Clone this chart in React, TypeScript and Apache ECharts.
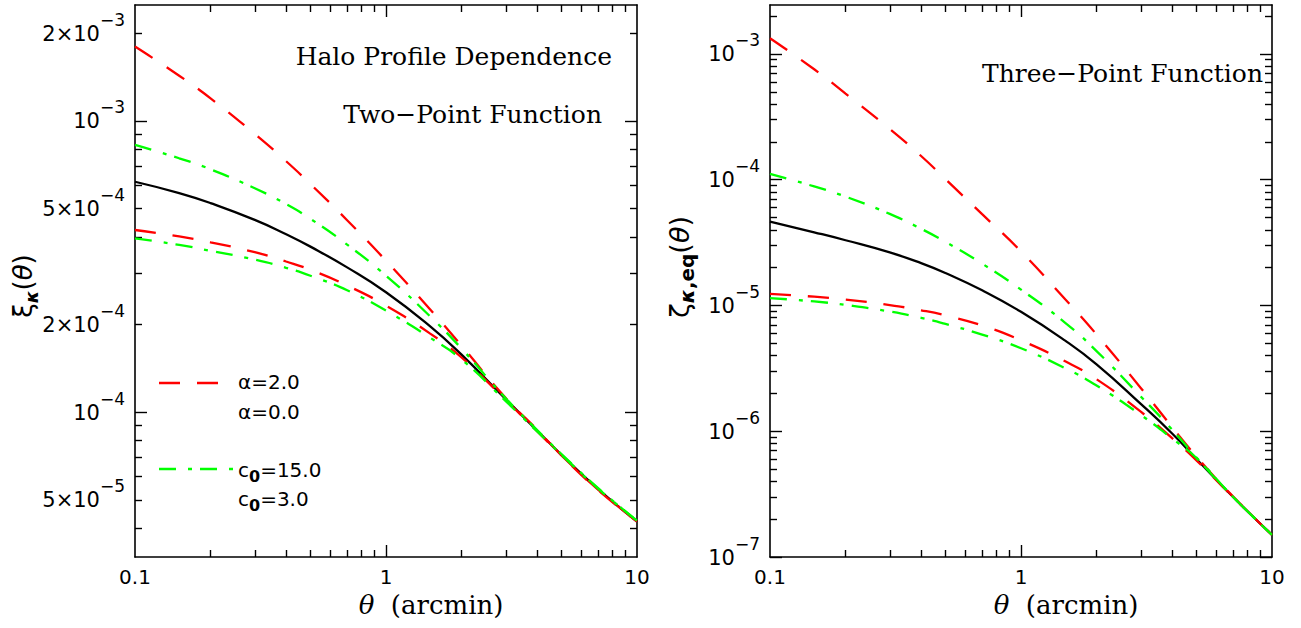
import React, { useEffect, useRef } from 'react';
import * as echarts from 'echarts';

// ---------- data ----------
const theta = [0.1, 0.15, 0.2, 0.3, 0.4, 0.5, 0.7, 1, 1.5, 2, 3, 4, 5, 7, 10];

// Two-point function (left panel)
const fid2 = [6.18e-4, 5.65e-4, 5.22e-4, 4.57e-4, 4.08e-4, 3.70e-4, 3.14e-4, 2.58e-4, 1.97e-4, 1.575e-4, 1.107e-4, 8.64e-5, 7.13e-5, 5.44e-5, 4.21e-5];
const alpha2_2 = [1.80e-3, 1.429e-3, 1.195e-3, 9.02e-4, 7.27e-4, 6.07e-4, 4.56e-4, 3.31e-4, 2.25e-4, 1.69e-4, 1.117e-4, 8.70e-5, 7.10e-5, 5.40e-5, 4.21e-5];
const alpha0_2 = [4.22e-4, 4.01e-4, 3.83e-4, 3.54e-4, 3.29e-4, 3.08e-4, 2.72e-4, 2.32e-4, 1.86e-4, 1.54e-4, 1.10e-4, 8.60e-5, 7.10e-5, 5.42e-5, 4.21e-5];
const c15_2 = [8.27e-4, 7.44e-4, 6.82e-4, 5.87e-4, 5.18e-4, 4.61e-4, 3.76e-4, 2.94e-4, 2.13e-4, 1.652e-4, 1.115e-4, 8.68e-5, 7.18e-5, 5.48e-5, 4.24e-5];
const c3_2 = [3.95e-4, 3.75e-4, 3.58e-4, 3.34e-4, 3.13e-4, 2.94e-4, 2.62e-4, 2.23e-4, 1.80e-4, 1.516e-4, 1.09e-4, 8.58e-5, 7.14e-5, 5.46e-5, 4.24e-5];

// Three-point function (right panel)
const fid3 = [4.65e-5, 3.82e-5, 3.30e-5, 2.64e-5, 2.17e-5, 1.81e-5, 1.32e-5, 8.9e-6, 5.25e-6, 3.40e-6, 1.65e-6, 9.6e-7, 6.02e-7, 3.00e-7, 1.50e-7];
const alpha2_3 = [1.334e-3, 7.55e-4, 4.84e-4, 2.53e-4, 1.543e-4, 1.011e-4, 5.32e-5, 2.69e-5, 1.12e-5, 5.88e-6, 2.21e-6, 1.08e-6, 6.30e-7, 3.02e-7, 1.50e-7];
const alpha0_3 = [1.237e-5, 1.174e-5, 1.114e-5, 1.007e-5, 9.16e-6, 8.34e-6, 6.93e-6, 5.28e-6, 3.60e-6, 2.59e-6, 1.43e-6, 8.80e-7, 5.86e-7, 2.99e-7, 1.50e-7];
const c15_3 = [1.114e-4, 8.84e-5, 7.34e-5, 5.35e-5, 4.07e-5, 3.20e-5, 2.15e-5, 1.337e-5, 7.28e-6, 4.34e-6, 1.89e-6, 1.03e-6, 6.18e-7, 3.00e-7, 1.50e-7];
const c3_3 = [1.144e-5, 1.076e-5, 1.010e-5, 8.95e-6, 7.97e-6, 7.13e-6, 5.87e-6, 4.57e-6, 3.17e-6, 2.31e-6, 1.349e-6, 8.76e-7, 6.13e-7, 3.00e-7, 1.50e-7];

// ---------- ticks and labels ----------
const xLabels = [0.1, 1, 10];
const xMinorTicks = [0.2, 0.3, 0.4, 0.5, 0.6, 0.7, 0.8, 0.9, 2, 3, 4, 5, 6, 7, 8, 9];
const xMajorTicks = [1];

const yLabels2 = [5e-5, 1e-4, 2e-4, 5e-4, 1e-3, 2e-3];
const yMinor2 = [4e-5, 5e-5, 6e-5, 7e-5, 8e-5, 9e-5, 2e-4, 3e-4, 4e-4, 5e-4, 6e-4, 7e-4, 8e-4, 9e-4, 2e-3];
const yMajor2 = [1e-4, 1e-3];

const yLabels3 = [1e-7, 1e-6, 1e-5, 1e-4, 1e-3];
const yMinor3 = [
  2e-7, 3e-7, 4e-7, 5e-7, 6e-7, 7e-7, 8e-7, 9e-7,
  2e-6, 3e-6, 4e-6, 5e-6, 6e-6, 7e-6, 8e-6, 9e-6,
  2e-5, 3e-5, 4e-5, 5e-5, 6e-5, 7e-5, 8e-5, 9e-5,
  2e-4, 3e-4, 4e-4, 5e-4, 6e-4, 7e-4, 8e-4, 9e-4,
  2e-3,
];
const yMajor3 = [1e-7, 1e-6, 1e-5, 1e-4, 1e-3];

const SANS = 'DejaVu Sans';
const SERIF = 'DejaVu Serif';
const RED = '#ff0000';
const GREEN = '#00ff00';
const DASH: number[] = [21, 17];
const DASHDOT: number[] = [17, 12, 4, 8];

const supRich = {
  b: { fontFamily: SANS, fontSize: 21, height: 21, lineHeight: 33, verticalAlign: 'bottom', color: '#000' },
  s: { fontFamily: SANS, fontSize: 17, height: 17, verticalAlign: 'top', color: '#000' },
};

function sciLabel(v: number): string {
  const e = Math.floor(Math.log10(v) + 1e-9);
  const m = Math.round(v / Math.pow(10, e));
  const ex = e < 0 ? '\u2212' + String(-e) : String(e);
  return m === 1 ? `{b|10}{s|${ex}}` : `{b|${m}\u00d710}{s|${ex}}`;
}

function plainLabel(v: number): string {
  return String(Number(v.toPrecision(6)));
}

function frameAxes(
  dim: 'x' | 'y',
  grid: number,
  min: number,
  max: number,
  labels: number[],
  minor: number[],
  major: number[],
  labelCfg: any,
  extra: any
) {
  const pos = dim === 'x' ? ['bottom', 'top'] : ['left', 'right'];
  const base = {
    type: 'log',
    logBase: 10,
    gridIndex: grid,
    min,
    max,
    splitLine: { show: false },
    minorSplitLine: { show: false },
  };
  const line = { show: true, onZero: false, lineStyle: { color: '#000', width: 1.6 } };
  const tick = (vals: number[], len: number) => ({
    show: true,
    inside: true,
    length: len,
    customValues: vals,
    lineStyle: { color: '#000', width: 1.4 },
  });
  return [
    {
      ...base,
      position: pos[0],
      axisLine: line,
      axisTick: tick(minor, 7),
      axisLabel: { show: true, customValues: labels, color: '#000', ...labelCfg },
      ...extra,
    },
    { ...base, position: pos[0], axisLine: { show: false }, axisTick: tick(major, 12), axisLabel: { show: false } },
    { ...base, position: pos[1], axisLine: line, axisTick: tick(minor, 7), axisLabel: { show: false } },
    { ...base, position: pos[1], axisLine: { show: false }, axisTick: tick(major, 12), axisLabel: { show: false } },
  ];
}

const xLabelCfg = {
  formatter: (v: number) => plainLabel(v),
  fontFamily: SANS,
  fontSize: 20,
  margin: 10,
};
const yLabelCfg = {
  formatter: (v: number) => sciLabel(v),
  rich: supRich,
  padding: [0, 0, 11, 0],
  margin: 10,
};
const xNameCfg = {
  name: '{i|\u03b8}{r|\u00a0\u00a0(arcmin)}',
  nameLocation: 'middle',
  nameGap: 34,
  nameTextStyle: {
    color: '#000',
    padding: [0, 0, 0, 90],
    rich: {
      i: { fontFamily: SERIF, fontStyle: 'italic', fontSize: 26, color: '#000' },
      r: { fontFamily: SERIF, fontSize: 26, color: '#000' },
    },
  },
};

function lineSeries(name: string, vals: number[], grid: number, color: string, dash: any, width: number, z: number) {
  return {
    type: 'line',
    name,
    xAxisIndex: grid * 4,
    yAxisIndex: grid * 4,
    data: theta.map((t, i) => [t, vals[i]]),
    symbol: 'none',
    showSymbol: false,
    smooth: 0.5,
    silent: true,
    z,
    lineStyle: { color, width, type: dash },
  };
}

const subRich = {
  a: { fontFamily: SANS, fontSize: 20, lineHeight: 26, fill: '#000', color: '#000' },
  s: { fontFamily: SANS, fontWeight: 'bold', fontSize: 16, height: 14, verticalAlign: 'bottom', fill: '#000', color: '#000' },
};

export default function App() {
  const ref = useRef<HTMLDivElement>(null);

  useEffect(() => {
    if (!ref.current) return;
    const chart = echarts.init(ref.current, null, { renderer: 'svg' });

    const option: any = {
      animation: false,
      backgroundColor: '#ffffff',
      grid: [
        { left: 135, top: 5, width: 502, height: 552 },
        { left: 770, top: 5, width: 502, height: 552 },
      ],
      xAxis: [
        ...frameAxes('x', 0, 0.1, 10, xLabels, xMinorTicks, xMajorTicks, xLabelCfg, xNameCfg),
        ...frameAxes('x', 1, 0.1, 10, xLabels, xMinorTicks, xMajorTicks, xLabelCfg, xNameCfg),
      ],
      yAxis: [
        ...frameAxes('y', 0, 3.18e-5, 2.5e-3, yLabels2, yMinor2, yMajor2, yLabelCfg, {}),
        ...frameAxes('y', 1, 1e-7, 2.45e-3, yLabels3, yMinor3, yMajor3, yLabelCfg, {}),
      ],
      series: [
        lineSeries('fiducial', fid2, 0, '#000000', 'solid', 2.3, 2),
        lineSeries('\u03b1=2.0', alpha2_2, 0, RED, DASH, 2.3, 3),
        lineSeries('\u03b1=0.0', alpha0_2, 0, RED, DASH, 2.3, 3),
        lineSeries('c0=15.0', c15_2, 0, GREEN, DASHDOT, 2.3, 4),
        lineSeries('c0=3.0', c3_2, 0, GREEN, DASHDOT, 2.3, 4),
        lineSeries('fiducial', fid3, 1, '#000000', 'solid', 2.3, 2),
        lineSeries('\u03b1=2.0', alpha2_3, 1, RED, DASH, 2.3, 3),
        lineSeries('\u03b1=0.0', alpha0_3, 1, RED, DASH, 2.3, 3),
        lineSeries('c0=15.0', c15_3, 1, GREEN, DASHDOT, 2.3, 4),
        lineSeries('c0=3.0', c3_3, 1, GREEN, DASHDOT, 2.3, 4),
      ],
      graphic: [
        // panel titles
        {
          type: 'text', x: 612, y: 56,
          style: { text: 'Halo Profile Dependence', fontFamily: SERIF, fontSize: 25, fill: '#000', align: 'right', verticalAlign: 'middle' },
        },
        {
          type: 'text', x: 602, y: 114,
          style: { text: 'Two\u2212Point Function', fontFamily: SERIF, fontSize: 25, fill: '#000', align: 'right', verticalAlign: 'middle' },
        },
        {
          type: 'text', x: 1263, y: 73,
          style: { text: 'Three\u2212Point Function', fontFamily: SERIF, fontSize: 25, fill: '#000', align: 'right', verticalAlign: 'middle' },
        },
        // y-axis titles
        {
          type: 'text', x: 23, y: 286, rotation: Math.PI / 2,
          style: {
            text: '{a|\u03be}{k|\u03ba}{a|(}{t|\u03b8}{a|)}',
            align: 'center', verticalAlign: 'middle',
            rich: {
              a: { fontFamily: SANS, fontSize: 26, lineHeight: 34, fill: '#000', color: '#000' },
              t: { fontFamily: SANS, fontStyle: 'italic', fontSize: 26, lineHeight: 34, fill: '#000', color: '#000' },
              k: { fontFamily: SANS, fontStyle: 'italic', fontWeight: 'bold', fontSize: 18, height: 18, verticalAlign: 'bottom', fill: '#000', color: '#000' },
            },
          },
        },
        {
          type: 'text', x: 679, y: 267, rotation: Math.PI / 2,
          style: {
            text: '{a|\u03b6}{k|\u03ba}{e|,eq}{a|(}{t|\u03b8}{a|)}',
            align: 'center', verticalAlign: 'middle',
            rich: {
              a: { fontFamily: SANS, fontSize: 27, lineHeight: 36, fill: '#000', color: '#000' },
              t: { fontFamily: SANS, fontStyle: 'italic', fontSize: 27, lineHeight: 36, fill: '#000', color: '#000' },
              k: { fontFamily: SANS, fontStyle: 'italic', fontWeight: 'bold', fontSize: 20, height: 20, verticalAlign: 'bottom', fill: '#000', color: '#000' },
              e: { fontFamily: SANS, fontWeight: 'bold', fontSize: 20, height: 20, verticalAlign: 'bottom', fill: '#000', color: '#000' },
            },
          },
        },
        // legend
        {
          type: 'line', shape: { x1: 159, y1: 383, x2: 222, y2: 383 },
          style: { stroke: RED, lineWidth: 2.3, lineDash: DASH },
        },
        {
          type: 'text', x: 238, y: 382,
          style: { text: '\u03b1=2.0', fontFamily: SANS, fontSize: 20, fill: '#000', align: 'left', verticalAlign: 'middle' },
        },
        {
          type: 'text', x: 238, y: 412,
          style: { text: '\u03b1=0.0', fontFamily: SANS, fontSize: 20, fill: '#000', align: 'left', verticalAlign: 'middle' },
        },
        {
          type: 'line', shape: { x1: 159, y1: 469, x2: 234, y2: 469 },
          style: { stroke: GREEN, lineWidth: 2.3, lineDash: DASHDOT },
        },
        {
          type: 'text', x: 238, y: 470,
          style: { text: '{a|c}{s|0}{a|=15.0}', align: 'left', verticalAlign: 'middle', rich: subRich },
        },
        {
          type: 'text', x: 238, y: 499,
          style: { text: '{a|c}{s|0}{a|=3.0}', align: 'left', verticalAlign: 'middle', rich: subRich },
        },
      ],
    };

    chart.setOption(option);
    return () => {
      chart.dispose();
    };
  }, []);

  return (
    <div
      ref={ref}
      style={{ position: 'absolute', left: 0, top: 0, width: 1301, height: 628, background: '#fff' }}
    />
  );
}
